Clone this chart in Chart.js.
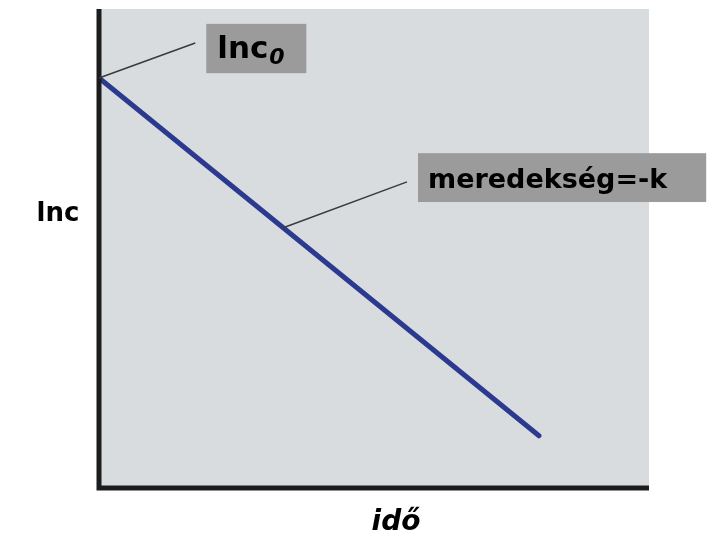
<!DOCTYPE html>
<html>
<head>
<meta charset="utf-8">
<script src="https://cdn.jsdelivr.net/npm/chart.js@4"></script>
<style>
    body { margin: 0; background: #ffffff; }
    #wrap { width: 709px; height: 539px; position: relative; }
</style>
</head>
<body>
<div id="wrap"><canvas id="chart"></canvas></div>
<script>
// data (arbitrary units)
const timeValues = [0, 8];
const lncValues = [8.56, 1.09];
const xLabel = 'idő';
const yLabel = 'lnc';
const interceptLabel = 'lnc';
const interceptSub = '0';
const slopeLabel = 'meredekség=-k';

// callouts, in data units
const interceptBox = { x0: 1.95, x1: 3.77, yTop: 9.69, yBottom: 8.66, tipX: 1.75, tipY: 9.29 };
const slopeBox = { x0: 5.8, x1: 11.04, yTop: 6.99, yBottom: 5.97, tipX: 5.6, tipY: 6.39, onLineX: 3.35 };

const labelFont = '"Comic Sans MS", "DejaVu Sans", sans-serif';

function lineValueAt(t) {
    const f = (t - timeValues[0]) / (timeValues[1] - timeValues[0]);
    return lncValues[0] + f * (lncValues[1] - lncValues[0]);
}

const backdrop = {
    id: 'backdrop',
    beforeDatasetsDraw(chart) {
        const { ctx, chartArea: a } = chart;
        ctx.save();
        ctx.fillStyle = '#d9dcdf';
        ctx.fillRect(a.left, a.top, a.right - a.left, a.bottom - a.top);
        ctx.restore();
    },
    afterDraw(chart) {
        const { ctx, chartArea: a } = chart;
        const xs = chart.scales.x, ys = chart.scales.y;
        ctx.save();

        // axes
        ctx.strokeStyle = '#1c1c1c';
        ctx.lineWidth = 5;
        ctx.beginPath();
        ctx.moveTo(a.left, a.top);
        ctx.lineTo(a.left, a.bottom);
        ctx.lineTo(a.right, a.bottom);
        ctx.stroke();

        // leader lines
        ctx.strokeStyle = '#3a3a3a';
        ctx.lineWidth = 1.5;
        ctx.beginPath();
        ctx.moveTo(xs.getPixelForValue(timeValues[0]), ys.getPixelForValue(lncValues[0]));
        ctx.lineTo(xs.getPixelForValue(interceptBox.tipX), ys.getPixelForValue(interceptBox.tipY));
        ctx.moveTo(xs.getPixelForValue(slopeBox.onLineX), ys.getPixelForValue(lineValueAt(slopeBox.onLineX)));
        ctx.lineTo(xs.getPixelForValue(slopeBox.tipX), ys.getPixelForValue(slopeBox.tipY));
        ctx.stroke();

        // label boxes
        ctx.fillStyle = '#9b9b9b';
        [interceptBox, slopeBox].forEach(b => {
            const l = xs.getPixelForValue(b.x0), r = xs.getPixelForValue(b.x1);
            const t = ys.getPixelForValue(b.yTop), btm = ys.getPixelForValue(b.yBottom);
            ctx.fillRect(l, t, r - l, btm - t);
        });

        ctx.fillStyle = '#000000';
        ctx.textBaseline = 'alphabetic';
        ctx.textAlign = 'left';

        // lnc0
        let bx = xs.getPixelForValue(interceptBox.x0) + 11;
        let by = ys.getPixelForValue(interceptBox.yBottom) - 15;
        ctx.font = 'bold 31px ' + labelFont;
        ctx.fillText(interceptLabel, bx, by);
        const w0 = ctx.measureText(interceptLabel).width;
        ctx.font = 'italic bold 22px ' + labelFont;
        ctx.fillText(interceptSub, bx + w0 + 1, by + 6);

        // slope
        ctx.font = 'bold 27px ' + labelFont;
        ctx.fillText(slopeLabel, xs.getPixelForValue(slopeBox.x0) + 10, ys.getPixelForValue(slopeBox.yBottom) - 14);

        // axis titles
        ctx.font = 'bold 26px ' + labelFont;
        ctx.textAlign = 'center';
        ctx.fillText(yLabel, 58, 221);
        ctx.font = 'italic bold 28px ' + labelFont;
        ctx.fillText(xLabel, (a.left + a.right) / 2 + 22, 530);

        ctx.restore();
    }
};

new Chart(document.getElementById('chart'), {
    type: 'line',
    data: {
        datasets: [{
            data: timeValues.map((t, i) => ({ x: t, y: lncValues[i] })),
            borderColor: '#2b3a8f',
            borderWidth: 5,
            borderCapStyle: 'round',
            pointRadius: 0,
            tension: 0
        }]
    },
    options: {
        responsive: true,
        maintainAspectRatio: false,
        animation: false,
        layout: { padding: { left: 99, right: 60, top: 9, bottom: 51 } },
        plugins: { legend: { display: false }, tooltip: { enabled: false } },
        scales: {
            x: { type: 'linear', min: 0, max: 10, display: false },
            y: { type: 'linear', min: 0, max: 10, display: false }
        }
    },
    plugins: [backdrop]
});
</script>
</body>
</html>
